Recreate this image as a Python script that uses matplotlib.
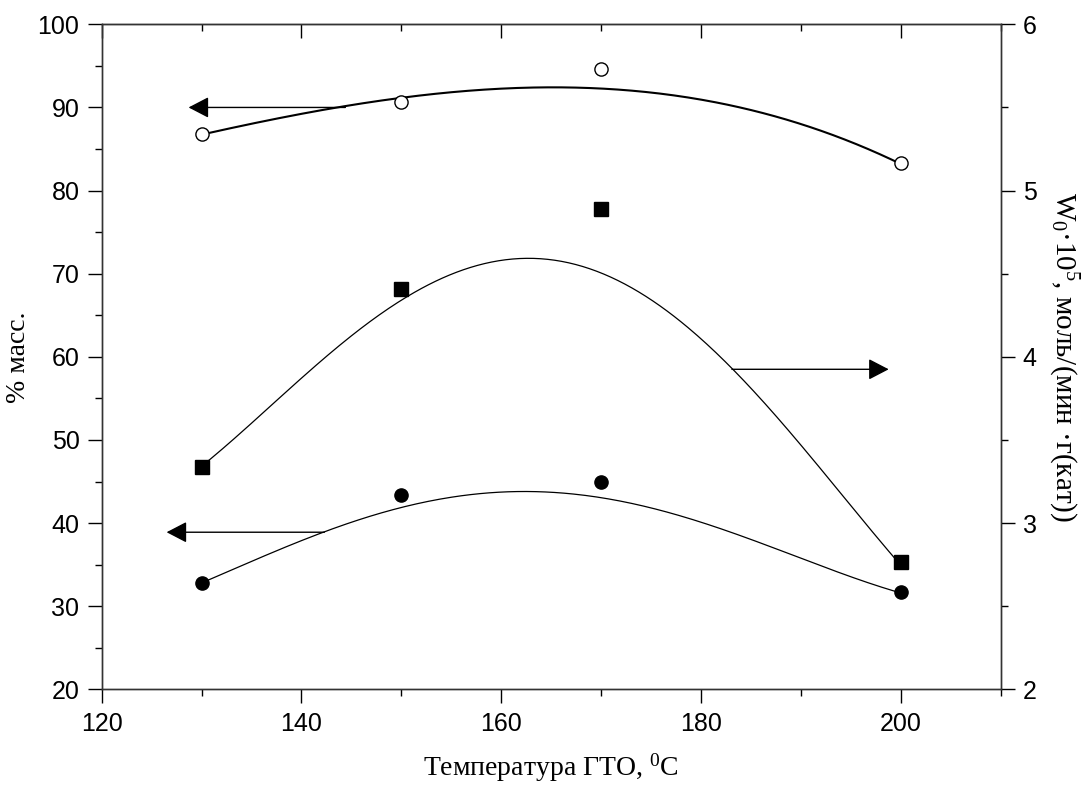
import numpy as np
import matplotlib
matplotlib.use('Agg')
import matplotlib.pyplot as plt
from matplotlib.ticker import MultipleLocator

# measured points
temp = [130, 150, 170, 200]
conv_open = [86.8, 90.7, 94.6, 83.3]      # % масс., open circles
conv_filled = [32.8, 43.4, 44.9, 31.7]    # % масс., filled circles
rate_w0 = [3.34, 4.41, 4.89, 2.765]       # W0*10^5, squares (right axis)

# trend curves, values at a few temperatures
trend_open_t = [130, 150, 164, 185, 200]
trend_open_y = [86.8, 90.8, 92.9, 89.4, 83.3]
trend_filled_t = [130, 142.3, 150, 161.6, 170, 185, 200]
trend_filled_y = [32.8, 38.9, 42.0, 43.6, 43.2, 38.0, 31.6]
trend_rate_t = [130, 140, 150, 163, 170, 178, 186, 195, 200]
trend_rate_y = [3.34, 3.88, 4.325, 4.605, 4.51, 4.20, 3.74, 3.12, 2.74]

# arrows: (tail x, tip x, y)
arrow_open = (144.4, 128.7, 90.0)
arrow_filled = (142.3, 126.5, 38.9)
arrow_rate = (183.1, 198.8, 3.925)

xticks = [120, 140, 160, 180, 200]
left_ticks = [20, 30, 40, 50, 60, 70, 80, 90, 100]
right_ticks = [2, 3, 4, 5, 6]

plt.rcParams['font.family'] = ['Liberation Sans', 'DejaVu Sans']
plt.rcParams['mathtext.fontset'] = 'custom'
plt.rcParams['mathtext.rm'] = 'Liberation Serif'
plt.rcParams['mathtext.default'] = 'regular'

SERIF = ['Liberation Serif', 'DejaVu Serif']


def smooth(t, y, deg):
    coef = np.polyfit(t, y, deg)
    xs = np.linspace(min(t), max(t), 300)
    return xs, np.polyval(coef, xs)


def draw_arrow(axis, spec):
    tail, tip, y = spec
    axis.annotate('', xy=(tip, y), xytext=(tail, y),
                  arrowprops=dict(arrowstyle='-|>,head_length=12.5,head_width=6.5',
                                  mutation_scale=1, color='black', lw=1.0,
                                  shrinkA=0, shrinkB=0))


fig = plt.figure(figsize=(10.91, 7.87), dpi=100)
ax = fig.add_axes([0.0932, 0.1241, 0.8239, 0.8450])
ax2 = ax.twinx()

# curves
xs, ys = smooth(trend_open_t, trend_open_y, 3)
ax.plot(xs, ys, color='black', lw=1.5, zorder=2)
xs, ys = smooth(trend_filled_t, trend_filled_y, 4)
ax.plot(xs, ys, color='black', lw=0.9, zorder=2)
xs, ys = smooth(trend_rate_t, trend_rate_y, 4)
ax2.plot(xs, ys, color='black', lw=0.9, zorder=2)

# markers
ax.plot(temp, conv_open, 'o', ms=9.5, mfc='white', mec='black', mew=1.0, zorder=3)
ax.plot(temp, conv_filled, 'o', ms=9.5, mfc='black', mec='black', zorder=3)
ax2.plot(temp, rate_w0, 's', ms=9.5, mfc='black', mec='black', zorder=3)

draw_arrow(ax, arrow_open)
draw_arrow(ax, arrow_filled)
draw_arrow(ax2, arrow_rate)

ax.set_xlim(120, 210)
ax.set_ylim(20, 100)
ax2.set_ylim(2, 6)

ax.set_xticks(xticks)
ax.set_yticks(left_ticks)
ax2.set_yticks(right_ticks)
ax.xaxis.set_minor_locator(MultipleLocator(10))
ax.yaxis.set_minor_locator(MultipleLocator(5))
ax2.yaxis.set_minor_locator(MultipleLocator(0.5))

ax.tick_params(axis='both', which='major', direction='out', length=10, width=1,
               labelsize=18, pad=6)
ax.tick_params(axis='both', which='minor', direction='out', length=5, width=1)
ax2.tick_params(axis='y', which='major', direction='out', length=10, width=1,
                labelsize=18, pad=6)
ax2.tick_params(axis='y', which='minor', direction='out', length=5, width=1)

top = ax.secondary_xaxis('top')
top.set_xticks(xticks)
top.xaxis.set_minor_locator(MultipleLocator(10))
top.tick_params(axis='x', which='major', direction='in', length=10, width=1, labeltop=False)
top.tick_params(axis='x', which='minor', direction='in', length=5, width=1)

for a in (ax, ax2):
    for sp in a.spines.values():
        sp.set_linewidth(1.0)
        sp.set_color('#333333')

ax.set_xlabel('Температура ГТО, $^{0}$C', family=SERIF, fontsize=20, va='baseline')
ax.xaxis.set_label_coords(0.5, -0.129)
ax.set_ylabel('% масс.', family=SERIF, fontsize=20, va='center')
ax.yaxis.set_label_coords(-0.093, 0.5)
ax2.set_ylabel('W$_{0}$·10$^{5}$, моль/(мин ·г(кат))', family=SERIF, fontsize=21,
               rotation=-90, va='center')
ax2.yaxis.set_label_coords(1.069, 0.5)

fig.savefig('out.png', dpi=100)
